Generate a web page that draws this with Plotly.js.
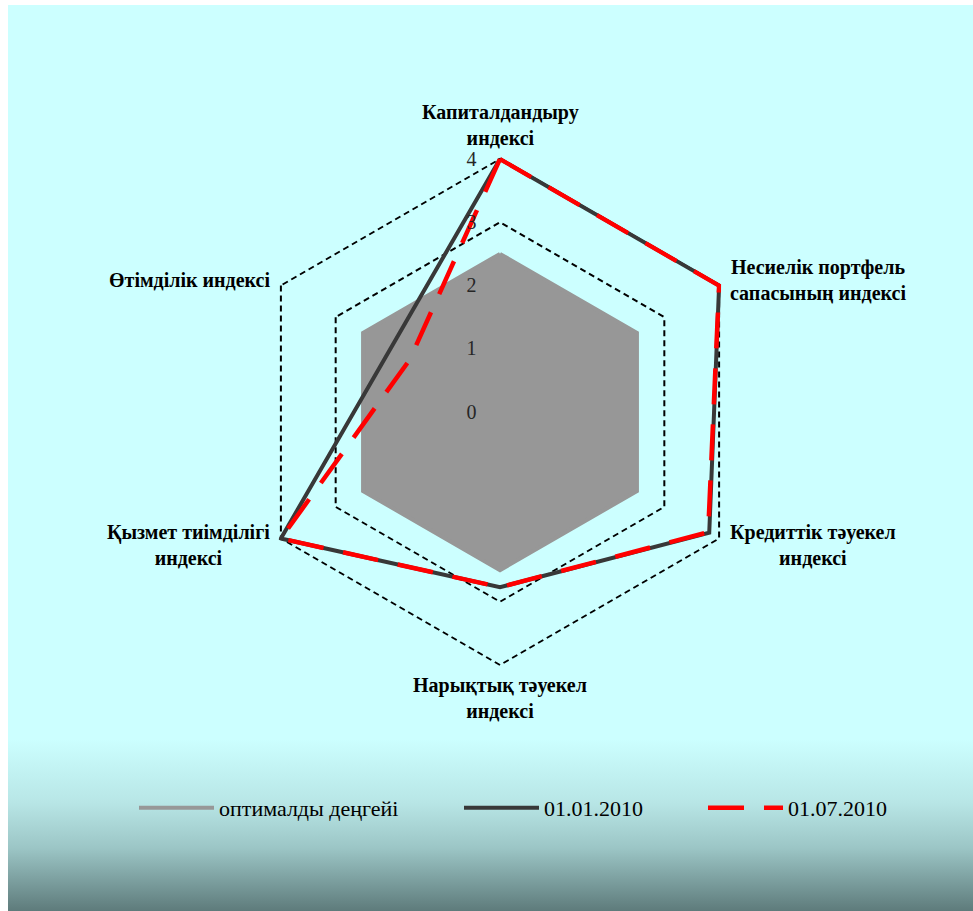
<!DOCTYPE html>
<html>
<head>
<meta charset="utf-8">
<script src="https://cdn.plot.ly/plotly-3.0.1.min.js"></script>
<style>
  html, body { margin: 0; padding: 0; background: #ffffff; }
  #wrap { position: relative; width: 973px; height: 911px; }
  #bg { position: absolute; left: 8px; top: 5px; right: 0; bottom: 0;
        background: linear-gradient(to bottom, #CCFFFF 0%, #CCFFFF 81%, #B8E6E6 88%, #9CC6C6 93%, #5E7B7B 100%); }
  #chart { position: absolute; left: 0; top: 0; width: 973px; height: 911px; }
</style>
</head>
<body>
<div id="wrap"><div id="bg"></div><div id="chart"></div></div>
<script>
// Categories (clockwise from top)
const categories = [
  "Капиталдандыру<br>индексі",
  "Несиелік портфель<br>сапасының индексі",
  "Кредиттік тәуекел<br>индексі",
  "Нарықтық тәуекел<br>индексі",
  "Қызмет тиімділігі<br>индексі",
  "Өтімділік индексі"
];
const seriesNames = ["оптималды деңгейі", "01.01.2010", "01.07.2010"];
const optimal = [2.5, 2.5, 2.5, 2.5, 2.5, 2.5];
const jan2010 = [4, 4, 3.82, 2.77, 4, 2.0];
const jul2010 = [4, 4, 3.8, 2.77, 4, 1.65];
const radialTicks = [0, 1, 2, 3, 4];

function closeLoop(a) { return a.concat([a[0]]); }
const theta = closeLoop(categories);

const traces = [
  { type: 'scatterpolar', r: closeLoop(optimal), theta: theta, mode: 'lines',
    fill: 'toself', fillcolor: '#979797', line: { color: '#979797', width: 0.5 },
    showlegend: false, hoverinfo: 'skip' },
  { type: 'scatterpolar', r: closeLoop(optimal), theta: theta, mode: 'lines',
    name: seriesNames[0], legend: 'legend', line: { color: '#979797', width: 4 } },
  { type: 'scatterpolar', r: closeLoop(jan2010), theta: theta, mode: 'lines',
    name: seriesNames[1], legend: 'legend2', line: { color: '#383838', width: 4 } },
  { type: 'scatterpolar', r: closeLoop(jul2010), theta: theta, mode: 'lines',
    name: seriesNames[2], legend: 'legend3', line: { color: '#FF0000', width: 4.5, dash: '36px,20px' } }
];

// geometry of the polar area (pixels)
const W = 973, H = 911;
const cx = 500, cyTop = 412, cyBot = H - cyTop;
const rOuter = 253;          // pixel radius of value 4
const m = 4.04;              // radial range max
const R = rOuter * m / 4;

// category labels as centred annotations around the polygon
const annotations = categories.map(function (txt, i) {
  const a = (90 - 60 * i) * Math.PI / 180;
  const ux = Math.cos(a), uy = Math.sin(a);
  const side = Math.abs(ux) > 0.3;
  return {
    xref: 'paper', yref: 'paper', showarrow: false, text: txt, align: 'center',
    x: (cx + rOuter * ux) / W, y: (cyBot + rOuter * uy) / H,
    xanchor: ux > 0.3 ? 'left' : (ux < -0.3 ? 'right' : 'center'),
    yanchor: uy > 0.9 ? 'bottom' : (uy < -0.9 ? 'top' : 'middle'),
    xshift: side ? Math.sign(ux) * 9 : 0,
    yshift: side ? Math.sign(uy) * 6 : (uy > 0 ? 8 : -7),
    font: { size: 20, weight: 'bold', color: '#000000', family: 'Liberation Serif, Times New Roman, serif' }
  };
});

function legendAt(px) {
  return { orientation: 'h', x: (px - 6) / W, xanchor: 'left', y: (H - 808) / H, yanchor: 'middle',
           font: { size: 22, color: '#000000' }, bgcolor: 'rgba(0,0,0,0)', itemwidth: 75 };
}

const layout = {
  width: W, height: H,
  margin: { l: 0, r: 0, t: 0, b: 0 },
  paper_bgcolor: 'rgba(0,0,0,0)',
  plot_bgcolor: 'rgba(0,0,0,0)',
  font: { family: 'Liberation Serif, Times New Roman, serif', color: '#000000' },
  showlegend: true,
  legend: legendAt(140),
  legend2: legendAt(465),
  legend3: legendAt(709),
  annotations: annotations,
  polar: {
    domain: { x: [(cx - R) / W, (cx + R) / W], y: [(cyBot - R) / H, (cyBot + R) / H] },
    bgcolor: 'rgba(0,0,0,0)',
    gridshape: 'linear',
    angularaxis: {
      direction: 'clockwise', rotation: 90,
      showgrid: false, showline: false, showticklabels: false, ticks: ''
    },
    radialaxis: {
      range: [0, m], angle: 90, side: 'counterclockwise',
      tickvals: radialTicks, ticktext: radialTicks.map(String),
      showline: false, showgrid: true,
      gridcolor: '#000000', gridwidth: 2, griddash: '6px,4px',
      ticks: 'outside', ticklen: 16, tickcolor: 'rgba(0,0,0,0)', tickangle: 90,
      tickfont: { size: 20, color: '#262626' }, layer: 'above traces'
    }
  }
};

Plotly.newPlot('chart', traces, layout, { displayModeBar: false, staticPlot: true });
</script>
</body>
</html>
